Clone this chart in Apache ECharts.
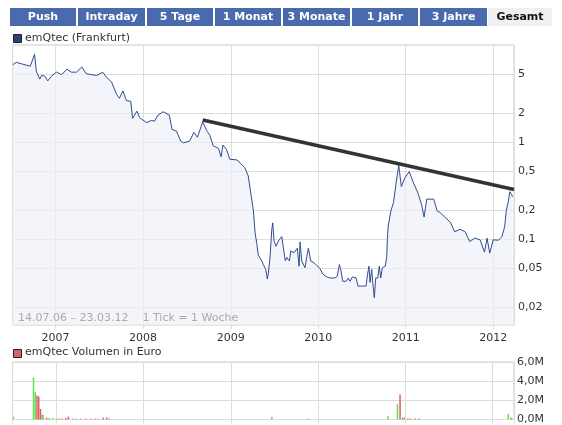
<!DOCTYPE html>
<html><head><meta charset="utf-8">
<script src="https://cdn.jsdelivr.net/npm/echarts@6/dist/echarts.min.js"></script>
<style>html,body{margin:0;padding:0;background:#fff}#c{width:562px;height:425px}</style>
</head><body><div id="c"></div>
<script>
// Price (decimal year, EUR)
const priceYears = [2006.51,2006.55,2006.71,2006.76,2006.78,2006.82,2006.84,2006.88,2006.91,2006.95,2007.01,2007.07,2007.13,2007.18,2007.24,2007.30,2007.35,2007.47,2007.54,2007.58,2007.64,2007.70,2007.73,2007.77,2007.81,2007.86,2007.88,2007.93,2007.96,2008.04,2008.10,2008.13,2008.17,2008.23,2008.30,2008.33,2008.38,2008.43,2008.46,2008.53,2008.58,2008.62,2008.68,2008.73,2008.76,2008.80,2008.86,2008.89,2008.91,2008.95,2008.99,2009.07,2009.16,2009.20,2009.22,
2009.258,2009.278,2009.297,2009.315,2009.335,2009.354,2009.373,2009.40,2009.418,2009.43,2009.449,2009.469,2009.48,2009.495,2009.518,2009.544,2009.563,2009.583,2009.594,2009.609,2009.624,2009.64,2009.658,2009.67,2009.686,2009.723,2009.761,2009.781,2009.792,2009.811,2009.83,2009.849,2009.869,2009.887,2009.898,2009.914,2009.944,2009.983,2010.021,2010.051,2010.097,2010.135,2010.192,2010.218,2010.241,
2010.257,2010.28,2010.318,2010.344,2010.363,2010.39,2010.432,2010.455,2010.546,2010.566,2010.58,2010.592,2010.611,2010.623,2010.641,2010.657,2010.68,2010.698,2010.714,2010.733,2010.752,2010.767,2010.783,2010.79,
2010.80,2010.83,2010.86,2010.89,2010.92,2010.95,2010.99,2011.04,2011.09,2011.14,2011.18,2011.21,2011.24,2011.32,2011.36,2011.39,2011.51,2011.56,2011.62,2011.68,2011.73,2011.79,2011.85,2011.90,2011.93,2011.96,2012.00,2012.06,2012.10,2012.13,2012.15,2012.17,2012.19,2012.21,2012.22];
const priceValues = [6.3,6.7,6.1,8.1,5.4,4.5,4.9,4.8,4.3,4.8,5.3,5.0,5.7,5.3,5.3,6.0,5.1,4.9,5.3,4.7,4.2,3.1,2.85,3.4,2.7,2.65,1.77,2.1,1.8,1.6,1.69,1.65,1.91,2.07,1.91,1.36,1.31,1.03,0.99,1.03,1.27,1.13,1.63,1.3,1.19,0.92,0.87,0.71,0.94,0.85,0.67,0.66,0.55,0.45,0.44,
0.2,0.117,0.091,0.069,0.069,0.06,0.055,0.049,0.039,0.045,0.065,0.127,0.148,0.096,0.085,0.096,0.092,0.107,0.112,0.073,0.06,0.065,0.067,0.06,0.076,0.073,0.081,0.053,0.094,0.06,0.058,0.051,0.067,0.081,0.079,0.06,0.058,0.054,0.05,0.044,0.041,0.04,0.04,0.042,0.055,
0.049,0.037,0.037,0.04,0.037,0.041,0.04,0.033,0.033,0.045,0.053,0.036,0.049,0.036,0.025,0.04,0.04,0.053,0.04,0.051,0.049,0.053,0.067,0.1,
0.137,0.196,0.24,0.38,0.58,0.35,0.43,0.5,0.38,0.30,0.23,0.17,0.26,0.26,0.196,0.19,0.15,0.12,0.127,0.12,0.095,0.103,0.099,0.074,0.103,0.072,0.099,0.098,0.107,0.135,0.2,0.24,0.31,0.29,0.275];
// Trend line endpoints
const trendYears = [2008.68, 2012.237];
const trendValues = [1.70, 0.327];
// Volume (decimal year, EUR)
const volUpYears = [2006.51,2006.74,2006.76,2006.84,2006.85,2006.92,2006.96,2007.00,2009.47,2009.88,2010.80,2010.91,2010.99,2012.18,2012.21];
const volUpValues = [300000,4400000,2900000,500000,500000,150000,150000,100000,300000,100000,400000,1600000,200000,600000,200000];
const volDownYears = [2006.78,2006.80,2006.82,2006.89,2007.03,2007.07,2007.11,2007.14,2007.19,2007.23,2007.28,2007.34,2007.40,2007.45,2007.48,2007.54,2007.58,2007.61,2010.94,2010.97,2011.03,2011.06,2011.11,2011.16,2012.22];
const volDownValues = [2500000,2400000,1100000,200000,100000,100000,150000,300000,80000,80000,80000,80000,80000,80000,80000,200000,200000,100000,2600000,200000,100000,100000,100000,100000,100000];
const priceTicks = [5,2,1,0.5,0.2,0.1,0.05,0.02];
const volTicks = ['0,0M','2,0M','4,0M','6,0M'];
const tabs = ['Push','Intraday','5 Tage','1 Monat','3 Monate','1 Jahr','3 Jahre','Gesamt'];

function yToTime(y){const yr=Math.floor(y);const a=Date.UTC(yr,0,1),b=Date.UTC(yr+1,0,1);return a+(y-yr)*(b-a);}
const pairs=(xs,vs)=>xs.map((x,i)=>[yToTime(x),vs[i]]);
const xmin=yToTime(2006.51), xmax=yToTime(2012.237);
const F='DejaVu Sans';
const chart=echarts.init(document.getElementById('c'),null,{renderer:'canvas'});
const tabX=[10,78,147,215,283,352,420,488], tabW=[66,67,66,66,67,66,67,64];
const graphic=[];
tabs.forEach((t,i)=>{
  const last=i===tabs.length-1;
  graphic.push({type:'rect',left:tabX[i],top:8,shape:{width:tabW[i],height:18},style:{fill:last?'#f0f0f0':'#4a6aae'}});
  graphic.push({type:'text',x:tabX[i]+tabW[i]/2,y:17,style:{text:t,fill:last?'#111':'#fff',font:'bold 11px '+F,align:'center',verticalAlign:'middle'}});
});
graphic.push({type:'rect',left:13,top:34,shape:{width:8,height:8},style:{fill:'#2b4478',stroke:'#222',lineWidth:1}});
graphic.push({type:'text',left:25,top:33,style:{text:'emQtec (Frankfurt)',fill:'#333',font:'11px '+F}});
graphic.push({type:'rect',left:13,top:349,shape:{width:8,height:8},style:{fill:'#e06060',stroke:'#222',lineWidth:1}});
graphic.push({type:'text',left:25,top:347,style:{text:'emQtec Volumen in Euro',fill:'#333',font:'11px '+F}});
graphic.push({type:'text',left:18,top:313,z:10,style:{text:'14.07.06 – 23.03.12    1 Tick = 1 Woche',fill:'#aaa',font:'11px '+F}});

const xCommon={type:'time',min:xmin,max:xmax,minInterval:365*86400000,maxInterval:366*86400000,
  splitLine:{show:true,lineStyle:{color:'#ddd'}},axisLine:{show:false},axisTick:{show:true,length:4,lineStyle:{color:'#ddd'}}};
chart.setOption({
  animation:false,
  graphic,
  grid:[{left:12.7,top:45,width:501.3,height:280,show:true,borderColor:'#ccc',borderWidth:1,backgroundColor:'#fff'},
        {left:12.7,top:362,width:501.3,height:59,show:true,borderColor:'#ccc',borderWidth:1}],
  xAxis:[Object.assign({gridIndex:0,axisLabel:{formatter:'{yyyy}',color:'#333',fontSize:11,fontFamily:F,margin:8}},xCommon),
         Object.assign({gridIndex:1,axisLabel:{show:false}},xCommon)],
  yAxis:[{gridIndex:0,type:'log',min:0.0131,max:10.1,axisLabel:{show:false},splitLine:{show:false},axisLine:{show:false},axisTick:{show:false}},
         {gridIndex:1,type:'value',min:0,max:6e6,interval:2e6,position:'right',
          axisLabel:{color:'#333',fontSize:11,fontFamily:F,margin:3,formatter:v=>volTicks[Math.round(v/2e6)]},
          splitLine:{lineStyle:{color:'#ddd'}},axisLine:{show:false},axisTick:{show:false}}],
  series:[
    {type:'line',xAxisIndex:0,yAxisIndex:0,data:pairs(priceYears,priceValues),symbol:'none',
     lineStyle:{color:'#2f4d8d',width:1},areaStyle:{color:'#eef1f9',origin:'start'},z:3,
     markLine:{silent:true,symbol:'none',lineStyle:{color:'#ddd',width:1,type:'solid'},z:1,
       label:{position:'end',color:'#333',fontSize:11,fontFamily:F,distance:4,formatter:p=>String(p.value).replace('.',',')},
       data:priceTicks.map(v=>({yAxis:v}))}},
    {type:'line',xAxisIndex:0,yAxisIndex:0,data:pairs(trendYears,trendValues),symbol:'none',
     lineStyle:{color:'#333',width:3.5},z:5},
    {type:'bar',xAxisIndex:1,yAxisIndex:1,data:pairs(volUpYears,volUpValues),barWidth:1.5,itemStyle:{color:'#66dd55'}},
    {type:'bar',xAxisIndex:1,yAxisIndex:1,data:pairs(volDownYears,volDownValues),barWidth:1.5,itemStyle:{color:'#e06060'},barGap:'-100%'}
  ]
});
</script></body></html>
